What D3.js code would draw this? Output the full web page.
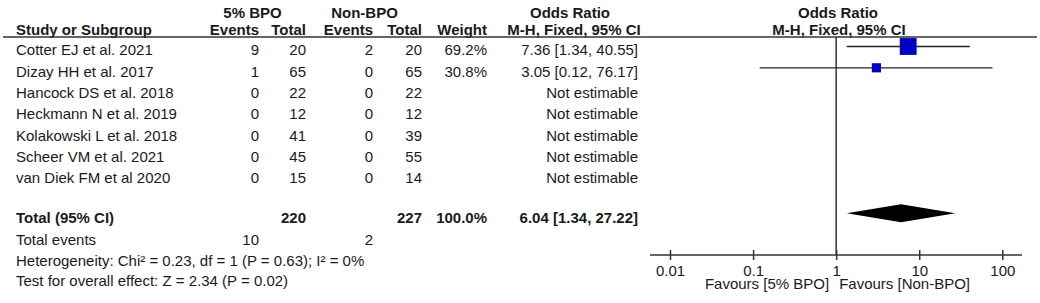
<!DOCTYPE html>
<html>
<head>
<meta charset="utf-8">
<script src="https://cdn.jsdelivr.net/npm/d3@7"></script>
<style>
  body { margin: 0; background: #fff; }
  svg text { font-family: "Liberation Sans", Arial, sans-serif; font-size: 15px; fill: #1a1a1a; }
  .b { font-weight: bold; }
</style>
</head>
<body>
<div id="chart"></div>
<script>
// Study data
const studies = ["Cotter EJ et al. 2021", "Dizay HH et al. 2017", "Hancock DS et al. 2018",
  "Heckmann N et al. 2019", "Kolakowski L et al. 2018", "Scheer VM et al. 2021", "van Diek FM et al 2020"];
const bpoEvents = [9, 1, 0, 0, 0, 0, 0];
const bpoTotal = [20, 65, 22, 12, 41, 45, 15];
const nonEvents = [2, 0, 0, 0, 0, 0, 0];
const nonTotal = [20, 65, 22, 12, 39, 55, 14];
const weights = [69.2, 30.8, null, null, null, null, null];
const orEst = [7.36, 3.05, null, null, null, null, null];
const ciLow = [1.34, 0.12, null, null, null, null, null];
const ciHigh = [40.55, 76.17, null, null, null, null, null];

// Pooled result
const pooled = [6.04, 1.34, 27.22];
const totals = [220, 227];
const totalEvents = [10, 2];
const footerLines = ["Heterogeneity: Chi\u00B2 = 0.23, df = 1 (P = 0.63); I\u00B2 = 0%",
  "Test for overall effect: Z = 2.34 (P = 0.02)"];
const axisTicks = [0.01, 0.1, 1, 10, 100];
const favours = ["Favours [5% BPO]", "Favours [Non-BPO]"];

const width = 1040, height = 303;
const ink = "#333";

const svg = d3.select("#chart").append("svg")
  .attr("width", width)
  .attr("height", height);

// column right edges
const col = { study: 16, bpoE: 259, bpoT: 306, nonE: 373, nonT: 422, weight: 487, or: 638 };

// scales
const xScale = d3.scaleLog().domain([0.01, 100]).range([670, 1002.3]);
const rowY = d3.scaleLinear().domain([0, 1]).range([55.3, 76.6]);
const footY = d3.scaleLinear().domain([0, 1]).range([223.3, 244.5]);
const sizeScale = d3.scaleLinear().domain([0, 100]).range([3, 23]);

const fmtOR = (e, l, h) => `${e.toFixed(2)} [${l.toFixed(2)}, ${h.toFixed(2)}]`;

// headers
const hdr = svg.append("g").attr("class", "b");
hdr.append("text").attr("x", (col.bpoE + col.bpoT) / 2 - 30).attr("y", 18.3)
  .attr("text-anchor", "middle").text("5% BPO");
hdr.append("text").attr("x", (col.nonE + col.nonT) / 2 - 33).attr("y", 18.3)
  .attr("text-anchor", "middle").text("Non-BPO");
hdr.append("text").attr("x", 570).attr("y", 18.3).attr("text-anchor", "middle").text("Odds Ratio");
hdr.append("text").attr("x", 838).attr("y", 18.3).attr("text-anchor", "middle").text("Odds Ratio");
hdr.append("text").attr("x", col.study).attr("y", 35).text("Study or Subgroup");
[["Events", col.bpoE], ["Total", col.bpoT], ["Events", col.nonE], ["Total", col.nonT], ["Weight", col.weight]]
  .forEach(([t, x]) => hdr.append("text").attr("x", x).attr("y", 35).attr("text-anchor", "end").text(t));
hdr.append("text").attr("x", 574).attr("y", 35).attr("text-anchor", "middle").text("M-H, Fixed, 95% CI");
hdr.append("text").attr("x", 839).attr("y", 35).attr("text-anchor", "middle").text("M-H, Fixed, 95% CI");

// header rule
svg.append("line").attr("x1", 3).attr("x2", 1037).attr("y1", 37).attr("y2", 37)
  .attr("stroke", ink).attr("stroke-width", 1.5);

// study rows
const rows = svg.append("g").selectAll("g")
  .data(studies.map((s, i) => i))
  .enter().append("g");

rows.append("text").attr("x", col.study).attr("y", i => rowY(i)).text(i => studies[i]);
rows.append("text").attr("x", col.bpoE).attr("y", i => rowY(i)).attr("text-anchor", "end").text(i => bpoEvents[i]);
rows.append("text").attr("x", col.bpoT).attr("y", i => rowY(i)).attr("text-anchor", "end").text(i => bpoTotal[i]);
rows.append("text").attr("x", col.nonE).attr("y", i => rowY(i)).attr("text-anchor", "end").text(i => nonEvents[i]);
rows.append("text").attr("x", col.nonT).attr("y", i => rowY(i)).attr("text-anchor", "end").text(i => nonTotal[i]);
rows.append("text").attr("x", col.weight).attr("y", i => rowY(i)).attr("text-anchor", "end")
  .text(i => weights[i] == null ? "" : weights[i].toFixed(1) + "%");
rows.append("text").attr("x", col.or).attr("y", i => rowY(i)).attr("text-anchor", "end")
  .text(i => orEst[i] == null ? "Not estimable" : fmtOR(orEst[i], ciLow[i], ciHigh[i]));

// reference line at OR = 1
svg.append("line").attr("x1", xScale(1)).attr("x2", xScale(1)).attr("y1", 37).attr("y2", 255)
  .attr("stroke", ink).attr("stroke-width", 1.5);

// CIs and squares
const est = rows.filter(i => orEst[i] != null);
est.append("line")
  .attr("x1", i => xScale(ciLow[i])).attr("x2", i => xScale(ciHigh[i]))
  .attr("y1", i => rowY(i) - 8.8).attr("y2", i => rowY(i) - 8.8)
  .attr("stroke", "#222").attr("stroke-width", 1.3);
est.append("rect")
  .attr("x", i => xScale(orEst[i]) - sizeScale(weights[i]) / 2)
  .attr("y", i => rowY(i) - 8.8 - sizeScale(weights[i]) / 2)
  .attr("width", i => sizeScale(weights[i]))
  .attr("height", i => sizeScale(weights[i]))
  .attr("fill", "#0000c4");

// total row
const tot = svg.append("g");
tot.append("text").attr("class", "b").attr("x", col.study).attr("y", footY(0)).text("Total (95% CI)");
tot.append("text").attr("class", "b").attr("x", col.bpoT).attr("y", footY(0)).attr("text-anchor", "end").text(totals[0]);
tot.append("text").attr("class", "b").attr("x", col.nonT).attr("y", footY(0)).attr("text-anchor", "end").text(totals[1]);
tot.append("text").attr("class", "b").attr("x", col.weight).attr("y", footY(0)).attr("text-anchor", "end")
  .text(d3.sum(weights).toFixed(1) + "%");
tot.append("text").attr("class", "b").attr("x", col.or).attr("y", footY(0)).attr("text-anchor", "end")
  .text(fmtOR(pooled[0], pooled[1], pooled[2]));

const dy = footY(0) - 10;
tot.append("polygon")
  .attr("points", [[xScale(pooled[1]), dy], [xScale(pooled[0]), dy - 9], [xScale(pooled[2]), dy], [xScale(pooled[0]), dy + 9]]
    .map(p => p.join(",")).join(" "))
  .attr("fill", "#000");

tot.append("text").attr("x", col.study).attr("y", footY(1)).text("Total events");
tot.append("text").attr("x", col.bpoE).attr("y", footY(1)).attr("text-anchor", "end").text(totalEvents[0]);
tot.append("text").attr("x", col.nonE).attr("y", footY(1)).attr("text-anchor", "end").text(totalEvents[1]);
footerLines.forEach((t, k) =>
  tot.append("text").attr("x", col.study).attr("y", footY(2 + k) - k * 1).text(t));

// axis
const axisY = 255;
svg.append("line").attr("x1", 650).attr("x2", 1022).attr("y1", axisY).attr("y2", axisY)
  .attr("stroke", ink).attr("stroke-width", 1.5);
const ax = svg.append("g")
  .attr("transform", `translate(0, ${axisY})`)
  .call(d3.axisBottom(xScale).tickValues(axisTicks).tickSizeInner(5).tickSizeOuter(0)
    .tickPadding(5.5).tickFormat(d => String(d)));
ax.select(".domain").remove();
ax.selectAll(".tick line").attr("y1", -5).attr("y2", 5).attr("stroke", ink).attr("stroke-width", 1.5);
ax.selectAll(".tick text").attr("font-size", null).attr("font-family", null).attr("fill", null);

svg.append("text").attr("x", xScale(1) - 7).attr("y", 289).attr("text-anchor", "end").text(favours[0]);
svg.append("text").attr("x", xScale(1) + 3).attr("y", 289).text(favours[1]);
</script>
</body>
</html>
